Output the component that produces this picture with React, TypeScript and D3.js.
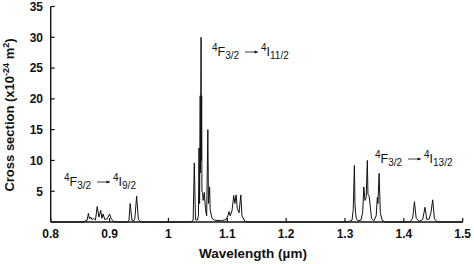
import React from "react";
import * as d3 from "d3";

// ---------- data ----------
const xTicks = [0.8, 0.9, 1.0, 1.1, 1.2, 1.3, 1.4, 1.5];
const xTickLabels = ["0.8", "0.9", "1", "1.1", "1.2", "1.3", "1.4", "1.5"];
const yTicks = [5, 10, 15, 20, 25, 30, 35];

// 4F3/2 -> 4I9/2 band (wavelength µm, cross section 1e-24 m2)
const band92: [number, number][] = [
  [0.8, 0], [0.855, 0], [0.862, 0.3], [0.864, 1.4], [0.866, 0.5], [0.868, 0.8],
  [0.87, 0.4], [0.873, 0.6], [0.876, 0.3], [0.879, 2.5], [0.882, 0.8],
  [0.885, 1.9], [0.887, 0.6], [0.889, 1.3], [0.892, 0.4], [0.896, 0.5],
  [0.9, 1.3], [0.903, 0.5], [0.907, 0.1], [0.912, 0], [0.93, 0], [0.933, 0.3],
  [0.935, 3.0], [0.938, 0.3], [0.941, 0.2], [0.943, 0.6], [0.946, 4.2],
  [0.949, 0.4], [0.953, 0],
];

// 4F3/2 -> 4I11/2 band
const band112: [number, number][] = [
  [1.038, 0], [1.042, 0.3], [1.044, 9.6], [1.046, 0.4], [1.049, 0.3],
  [1.051, 1.0], [1.052, 12], [1.053, 3], [1.054, 20.5], [1.0545, 8],
  [1.0555, 30], [1.056, 10], [1.0565, 20.5], [1.057, 5], [1.058, 4.8],
  [1.059, 3.5], [1.061, 4.8], [1.063, 2], [1.065, 1], [1.067, 15],
  [1.068, 3], [1.07, 5.7], [1.071, 2], [1.074, 0.6], [1.078, 0.3],
  [1.09, 0.2], [1.098, 0.4], [1.101, 1.0], [1.103, 1.7], [1.105, 1.0],
  [1.108, 1.8], [1.111, 4.3], [1.113, 3.0], [1.115, 4.4], [1.117, 2.2],
  [1.12, 1.5], [1.123, 4.4], [1.125, 1.0], [1.13, 0.1], [1.135, 0],
];

// 4F3/2 -> 4I13/2 band
const band132: [number, number][] = [
  [1.305, 0], [1.312, 0.3], [1.314, 2], [1.316, 9.2], [1.317, 2.8],
  [1.319, 0.6], [1.322, 0.2], [1.327, 0.3], [1.33, 1.5], [1.332, 5.7],
  [1.334, 3.5], [1.336, 4], [1.338, 10], [1.339, 4.5], [1.341, 4.2],
  [1.343, 2.5], [1.345, 0.6], [1.349, 0.2], [1.353, 1.0], [1.355, 4.0],
  [1.356, 3.0], [1.358, 7.9], [1.36, 1.5], [1.363, 0.3], [1.368, 0],
  [1.41, 0], [1.415, 0.6], [1.418, 3.3], [1.421, 0.6], [1.426, 0.1],
  [1.432, 0.4], [1.436, 2.4], [1.439, 0.4], [1.443, 0.5], [1.446, 1.5],
  [1.449, 3.6], [1.452, 0.5], [1.457, 0], [1.5, 0],
];

const transitionLabels = [
  { lower: "9/2", x: 64, y: 186 },
  { lower: "11/2", x: 212, y: 56 },
  { lower: "13/2", x: 375, y: 163 },
];

// ---------- layout ----------
const W = 474, H = 264;
const X0 = 50.7, X1 = 462.7, Y0 = 222, Y1 = 6.5;
const FONT = "'Liberation Sans', Arial, Helvetica, sans-serif";

export default function App() {
  const x = d3.scaleLinear().domain([0.8, 1.5]).range([X0, X1]);
  const y = d3.scaleLinear().domain([0, 35]).range([Y0, Y1]);
  const trace = [...band92, ...band112, ...band132];
  const line = d3
    .line<[number, number]>()
    .x((d) => x(d[0]))
    .y((d) => y(d[1]));

  return (
    <svg
      width={W}
      height={H}
      style={{ position: "absolute", left: 0, top: 0, background: "#fff" }}
      fontFamily={FONT}
    >
      <rect width={W} height={H} fill="#fff" />
      {/* spectrum */}
      <path d={line(trace) || ""} fill="none" stroke="#111" strokeWidth={1} strokeLinejoin="round" />

      {/* axes */}
      <line x1={X0} x2={X1} y1={Y0} y2={Y0} stroke="#111" strokeWidth={1.6} />
      <line x1={X0} x2={X0} y1={Y0} y2={Y1} stroke="#111" strokeWidth={1.4} />
      {xTicks.map((t, i) => (
        <g key={"xt" + i}>
          <line x1={x(t)} x2={x(t)} y1={Y0} y2={Y0 - 4} stroke="#111" strokeWidth={1.2} />
          <text x={x(t)} y={237.5} textAnchor="middle" fontSize={12} fontWeight="bold" fill="#111">
            {xTickLabels[i]}
          </text>
        </g>
      ))}
      {yTicks.map((t) => (
        <g key={"yt" + t}>
          <line x1={X0} x2={X0 + 4} y1={y(t)} y2={y(t)} stroke="#111" strokeWidth={1.2} />
          <text x={43} y={y(t)} dy="0.36em" textAnchor="end" fontSize={12} fontWeight="bold" fill="#111">
            {t}
          </text>
        </g>
      ))}

      {/* axis titles */}
      <text x={253} y={258} textAnchor="middle" fontSize={13.5} fontWeight="bold" fill="#111">
        Wavelength (µm)
      </text>
      <text
        transform="translate(14,115) rotate(-90)"
        textAnchor="middle"
        fontSize={13}
        fontWeight="bold"
        fill="#111"
      >
        Cross section (x10
        <tspan fontSize={9} dy={-5}>-24</tspan>
        <tspan dy={5}> m</tspan>
        <tspan fontSize={9} dy={-5}>2</tspan>
        <tspan dy={5}>)</tspan>
      </text>

      {/* transition labels */}
      {transitionLabels.map((l, i) => (
        <g key={"lab" + i} transform={`translate(${l.x},${l.y})`} fill="#111">
          <text fontSize={12.5}>
            <tspan fontSize={10} dy={-5}>4</tspan>
            <tspan dy={5}>F</tspan>
            <tspan fontSize={10} dy={3}>3/2</tspan>
          </text>
          <line x1={33} x2={46} y1={-4} y2={-4} stroke="#111" strokeWidth={0.8} />
          <path d="M46,-4 L42.5,-5.6 L42.5,-2.4 Z" fill="#111" />
          <text x={49} fontSize={12.5}>
            <tspan fontSize={10} dy={-5}>4</tspan>
            <tspan dy={5}>I</tspan>
            <tspan fontSize={10} dy={3}>{l.lower}</tspan>
          </text>
        </g>
      ))}
    </svg>
  );
}
